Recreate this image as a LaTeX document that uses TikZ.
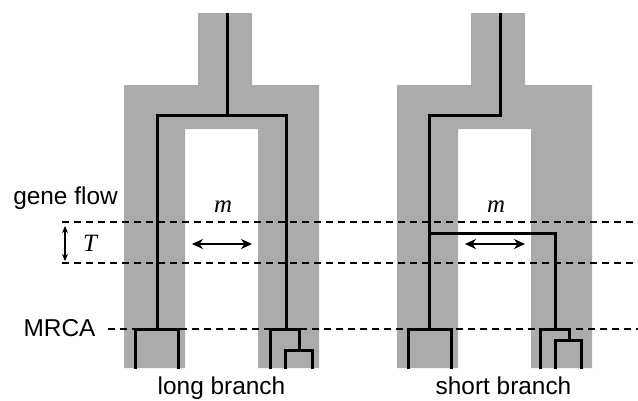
\documentclass[tikz,border=0pt]{standalone}
\usepackage{fontspec}
\setmainfont{Liberation Sans}
\newfontfamily\serifit{Liberation Serif}[ItalicFont={Liberation Serif Italic}]
\usetikzlibrary{arrows.meta}
\definecolor{popgray}{HTML}{ABABAB}
\tikzset{
  popshape/.style={fill=popgray, draw=none},
  genline/.style={line width=3bp, line cap=rect, line join=miter},
  timeline/.style={line width=1.5bp, dash pattern=on 7bp off 5bp},
  migarrow/.style={line width=2.2bp, {Stealth[length=11bp,width=10bp]}-{Stealth[length=11bp,width=10bp]}},
  tarrow/.style={line width=1.1bp, {Stealth[length=7bp,width=6bp]}-{Stealth[length=7bp,width=6bp]}},
  lab/.style={font=\fontsize{24.5}{28}\selectfont, inner sep=0pt},
  mathlab/.style={font=\fontsize{25}{28}\selectfont\serifit\itshape, inner sep=0pt}
}
\begin{document}
\begin{tikzpicture}[x=1bp, y=-1bp]
\useasboundingbox (0,0) rectangle (638,400);
% gray population shapes
\foreach \dx in {0,273}{
  \begin{scope}[xshift=\dx bp]
  \fill[popshape] (198,13) -- (252,13) -- (252,85) -- (319,85) -- (319,368) -- (258,368)
     -- (258,129) -- (185,129) -- (185,368) -- (124,368) -- (124,85) -- (198,85) -- cycle;
  \end{scope}
}
% dashed time lines
\coordinate (gfL) at (62,222);
\coordinate (gfR) at (638,222);
\coordinate (gtL) at (62,263);
\coordinate (gtR) at (638,263);
\coordinate (mrL) at (108,329);
\coordinate (mrR) at (638,329);
\draw[timeline] (gfL) -- (gfR);
\draw[timeline] (gtL) -- (gtR);
\draw[timeline] (mrL) -- (mrR);
% left tree: long branch
\draw[genline] (227,14) -- (227,115);
\draw[genline] (157,329) -- (157,115) -- (286,115) -- (286,329);
\draw[genline] (135,367) -- (135,329) -- (178,329) -- (178,367);
\draw[genline] (270,367) -- (270,329) -- (299,329) -- (299,350);
\draw[genline] (285,367) -- (285,350) -- (312,350) -- (312,367);
% right tree: short branch
\draw[genline] (500,14) -- (500,115) -- (429,115) -- (429,329);
\draw[genline] (429,233) -- (555,233) -- (555,329);
\draw[genline] (408,367) -- (408,329) -- (451,329) -- (451,367);
\draw[genline] (540,367) -- (540,329) -- (569,329) -- (569,340);
\draw[genline] (555,367) -- (555,340) -- (581,340) -- (581,367);
% migration arrows
\coordinate (maL) at (192,244);
\coordinate (maR) at (252,244);
\coordinate (mbL) at (465,244);
\coordinate (mbR) at (525,244);
\draw[migarrow] (maL) -- (maR);
\draw[migarrow] (mbL) -- (mbR);
% T arrow
\coordinate (tTop) at (65,226);
\coordinate (tBot) at (65,261);
\draw[tarrow] (tTop) -- (tBot);
% labels
\node[mathlab] (mA) at (223,207) {m};
\node[mathlab] (mB) at (496,207) {m};
\node[mathlab] (tlab) at (90,243) {T};
\node[lab, anchor=base] (gene) at (65.5,204) {gene flow};
\node[lab, anchor=base] (mrca) at (59.5,336) {MRCA};
\node[lab, anchor=base] (longb) at (221.5,394) {long branch};
\node[lab, anchor=base] (shortb) at (503.5,394) {short branch};
\end{tikzpicture}
\end{document}
